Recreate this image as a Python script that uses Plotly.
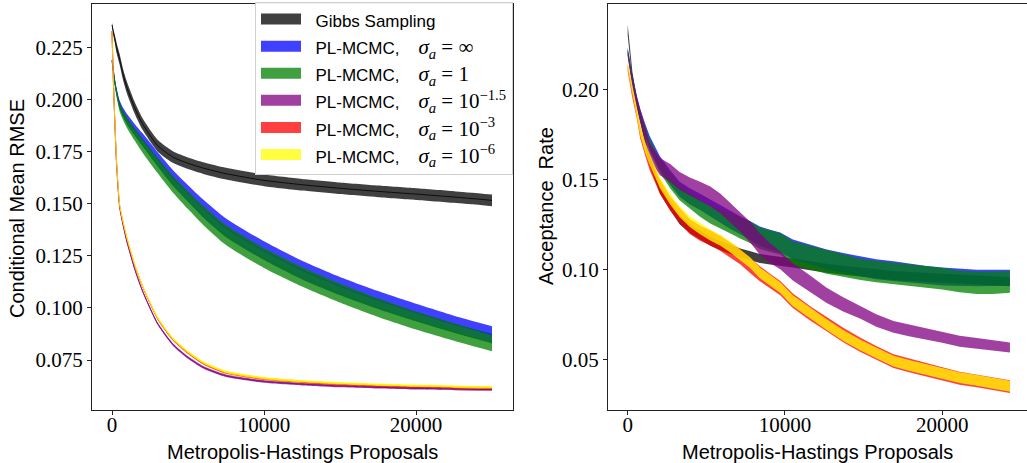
import plotly.graph_objects as go

# ---------------- data: left panel (Conditional Mean RMSE) ----------------
proposals_left = [0, 100, 200, 300, 500, 750, 1000, 1500, 2000, 3000, 4000, 5000,
                  6000, 7500, 10000, 12500, 15000, 17500, 20000, 22500, 25000]

gibbs_rmse = [0.236, 0.232, 0.2287, 0.225, 0.2195, 0.2115, 0.2055, 0.196, 0.1885, 0.178, 0.1725,
              0.1695, 0.1672, 0.1645, 0.1613, 0.1592, 0.1575, 0.156, 0.1547, 0.1533, 0.1517]
gibbs_rmse_sd = [0.001, 0.0015, 0.002, 0.0024, 0.0026, 0.0027, 0.0028, 0.0028, 0.0028, 0.0028, 0.0028,
                 0.0028, 0.0028, 0.0028, 0.0028, 0.0028, 0.0028, 0.0028, 0.0028, 0.0028, 0.0028]
inf_rmse = [0.219, 0.2135, 0.208, 0.204, 0.1978, 0.1937, 0.1905, 0.1855, 0.181, 0.1715, 0.1625,
            0.155, 0.1478, 0.1385, 0.1275, 0.1182, 0.1105, 0.1038, 0.0978, 0.0922, 0.0872]
inf_rmse_sd = [0.001, 0.0012, 0.0015, 0.0017, 0.002, 0.0022, 0.0025, 0.0028, 0.003, 0.0034, 0.0038,
               0.004, 0.0043, 0.0045, 0.0045, 0.0045, 0.0044, 0.0043, 0.0042, 0.0041, 0.004]
one_rmse = [0.219, 0.2132, 0.2075, 0.2032, 0.1965, 0.1922, 0.1888, 0.1833, 0.178, 0.1685, 0.1595,
            0.1518, 0.1445, 0.135, 0.124, 0.115, 0.1072, 0.1002, 0.094, 0.0885, 0.0832]
one_rmse_sd = [0.001, 0.0012, 0.0015, 0.0017, 0.002, 0.0023, 0.0026, 0.003, 0.0033, 0.0037, 0.004,
               0.0043, 0.0046, 0.0048, 0.0048, 0.0047, 0.0046, 0.0045, 0.0043, 0.0042, 0.004]
m15_rmse = [0.233, 0.207, 0.1865, 0.169, 0.1485, 0.139, 0.1312, 0.1185, 0.1083, 0.0925, 0.0825,
            0.0762, 0.0715, 0.0674, 0.0647, 0.0634, 0.0625, 0.0619, 0.0614, 0.0611, 0.0608]
m3_rmse = [0.233, 0.207, 0.187, 0.170, 0.1495, 0.1405, 0.133, 0.1205, 0.1105, 0.095, 0.085,
           0.0785, 0.0735, 0.069, 0.066, 0.0645, 0.0635, 0.0628, 0.0623, 0.0619, 0.0616]
m6_rmse = [0.233, 0.2073, 0.1873, 0.1703, 0.1498, 0.1408, 0.1333, 0.1208, 0.1108, 0.0953, 0.0853,
           0.0788, 0.0738, 0.0693, 0.0663, 0.0648, 0.0638, 0.0631, 0.0626, 0.0622, 0.0619]
small_rmse_sd = [0.0006] * 21

# ---------------- data: right panel (Acceptance Rate) ----------------
proposals_right = [0, 150, 300, 570, 800, 1100, 1400, 2050, 2700, 3300, 3950, 4600, 5250, 5900,
                   6500, 7150, 7800, 8400, 9050, 9700, 10500, 11600, 12650, 13700, 14800, 15800,
                   16900, 17950, 19000, 20000, 21100, 22200, 23200, 24300]

gibbs_acc = [0.233, 0.218, 0.207, 0.193, 0.183, 0.172, 0.160, 0.1445, 0.1355, 0.1275, 0.1225, 0.119,
             0.1155, 0.113, 0.111, 0.109, 0.1075, 0.106, 0.1052, 0.1045, 0.1035, 0.102, 0.1005,
             0.0995, 0.0985, 0.0975, 0.0965, 0.096, 0.0955, 0.095, 0.0945, 0.094, 0.0935, 0.093]
gibbs_acc_sd = [0.003, 0.0028, 0.0026] + [0.0025] * 31
inf_acc = [0.221, 0.212, 0.205, 0.194, 0.186, 0.178, 0.1705, 0.159, 0.151, 0.1445, 0.1405, 0.1375,
           0.134, 0.1305, 0.1275, 0.1245, 0.1215, 0.1185, 0.1165, 0.115, 0.111, 0.108, 0.1055,
           0.1035, 0.1015, 0.100, 0.099, 0.0978, 0.0968, 0.096, 0.0955, 0.0952, 0.0952, 0.0952]
inf_acc_sd = [0.002, 0.0025, 0.003, 0.003, 0.003, 0.0032, 0.0035, 0.0038, 0.004, 0.0042,
              0.0045, 0.0045, 0.0047, 0.005, 0.005, 0.005, 0.0052, 0.0053, 0.0055, 0.0055,
              0.0055, 0.0055, 0.0055, 0.0055, 0.0055, 0.0055, 0.0055, 0.0053, 0.005, 0.005,
              0.0048, 0.0046, 0.0045, 0.0045]
one_acc = [0.221, 0.212, 0.205, 0.193, 0.185, 0.177, 0.169, 0.1575, 0.149, 0.1425, 0.138, 0.134,
           0.1305, 0.128, 0.1255, 0.1228, 0.1205, 0.1172, 0.1155, 0.1142, 0.109, 0.1065, 0.104,
           0.102, 0.100, 0.0988, 0.0977, 0.0967, 0.0958, 0.0948, 0.0932, 0.0925, 0.0925, 0.093]
one_acc_sd = [0.002, 0.0025, 0.003, 0.003, 0.003, 0.0032, 0.0035, 0.0038, 0.004, 0.0042,
              0.0045, 0.0048, 0.005, 0.0052, 0.0055, 0.0057, 0.006, 0.006, 0.006, 0.006,
              0.0065, 0.0065, 0.0065, 0.0062, 0.006, 0.006, 0.006, 0.006, 0.006, 0.006,
              0.006, 0.0062, 0.0062, 0.006]
m15_acc = [0.220, 0.211, 0.204, 0.193, 0.185, 0.176, 0.1655, 0.157, 0.1535, 0.149, 0.146, 0.1435,
           0.1405, 0.1365, 0.1315, 0.1265, 0.1205, 0.114, 0.109, 0.105, 0.0985, 0.092, 0.0855,
           0.0805, 0.076, 0.0715, 0.068, 0.066, 0.064, 0.0622, 0.060, 0.0588, 0.0578, 0.0565]
m15_acc_sd = [0.002, 0.0025, 0.003, 0.003, 0.0035, 0.004, 0.0045, 0.0048, 0.005, 0.005,
              0.005, 0.0052, 0.0055, 0.0055, 0.0055, 0.0055, 0.0058, 0.006, 0.0055, 0.005,
              0.0048, 0.0045, 0.0042, 0.004, 0.0035, 0.0035, 0.0033, 0.0033, 0.003, 0.003,
              0.003, 0.003, 0.0028, 0.0028]
m3_acc = [0.212, 0.205, 0.198, 0.187, 0.176, 0.167, 0.159, 0.146, 0.1365, 0.130, 0.1238, 0.120,
          0.1175, 0.1143, 0.1107, 0.107, 0.102, 0.0975, 0.0935, 0.0895, 0.0825, 0.0755, 0.0695,
          0.0635, 0.058, 0.0535, 0.049, 0.0465, 0.044, 0.042, 0.0395, 0.038, 0.0365, 0.0348]
m3_acc_sd = [0.002, 0.0025, 0.003, 0.003, 0.0035, 0.0035, 0.004, 0.004, 0.004, 0.0042,
             0.0042, 0.0042, 0.0042, 0.0042, 0.0042, 0.0042, 0.0042, 0.0042, 0.004, 0.004,
             0.004, 0.004, 0.004, 0.004, 0.004, 0.0038, 0.0038, 0.0038, 0.0036, 0.0036,
             0.0036, 0.0036, 0.0036, 0.0036]
m6_acc = [0.213, 0.206, 0.199, 0.188, 0.177, 0.168, 0.161, 0.148, 0.139, 0.132, 0.1265, 0.1225,
          0.119, 0.116, 0.1125, 0.108, 0.1035, 0.098, 0.0938, 0.0898, 0.0825, 0.0755, 0.0692,
          0.0632, 0.0578, 0.0535, 0.049, 0.0465, 0.0442, 0.0422, 0.0398, 0.0383, 0.0368, 0.035]
m6_acc_sd = [0.002, 0.002, 0.0025, 0.0025] + [0.003] * 30

MATH = '<span style="font-family:Liberation Serif;font-size:21px">'
PL = "&nbsp;&nbsp;PL-MCMC,&nbsp;&nbsp;&nbsp; "
series_names = [
    "&nbsp;&nbsp;Gibbs Sampling",
    PL + MATH + "<i>σ<sub>a</sub></i> = ∞</span>",
    PL + MATH + "<i>σ<sub>a</sub></i> = 1</span>",
    PL + MATH + "<i>σ<sub>a</sub></i> = 10<sup>−1.5</sup></span>",
    PL + MATH + "<i>σ<sub>a</sub></i> = 10<sup>−3</sup></span>",
    PL + MATH + "<i>σ<sub>a</sub></i> = 10<sup>−6</sup></span>",
]
base_rgb = [(0, 0, 0), (0, 0, 255), (0, 128, 0), (128, 0, 128), (255, 0, 0), (255, 255, 0)]
x_ticks = [0, 10000, 20000]
x_title = "Metropolis-Hastings Proposals"
y_title_left = "Conditional Mean RMSE"
y_title_right = "Acceptance&nbsp; Rate"

left_series = [(gibbs_rmse, gibbs_rmse_sd), (inf_rmse, inf_rmse_sd), (one_rmse, one_rmse_sd),
               (m15_rmse, small_rmse_sd), (m3_rmse, small_rmse_sd), (m6_rmse, small_rmse_sd)]
right_series = [(gibbs_acc, gibbs_acc_sd), (inf_acc, inf_acc_sd), (one_acc, one_acc_sd),
                (m15_acc, m15_acc_sd), (m3_acc, m3_acc_sd), (m6_acc, m6_acc_sd)]

ALPHA = 0.75


def rgba(c, a):
    return f"rgba({c[0]},{c[1]},{c[2]},{a})"


def blended(c, a):
    r = [round(a * v + (1 - a) * 255) for v in c]
    return f"rgb({r[0]},{r[1]},{r[2]})"


fig = go.Figure()


def add_band(x, mean, sd, c, xa, ya, shape, centre_line):
    lower = [m - s for m, s in zip(mean, sd)]
    upper = [m + s for m, s in zip(mean, sd)]
    fig.add_trace(go.Scatter(x=x, y=lower, mode="lines", line=dict(width=0, shape=shape, smoothing=0.6),
                             showlegend=False, hoverinfo="skip", xaxis=xa, yaxis=ya))
    fig.add_trace(go.Scatter(x=x, y=upper, mode="lines", line=dict(width=0, shape=shape, smoothing=0.6),
                             fill="tonexty", fillcolor=rgba(c, ALPHA),
                             showlegend=False, hoverinfo="skip", xaxis=xa, yaxis=ya))
    if centre_line:
        fig.add_trace(go.Scatter(x=x, y=mean, mode="lines",
                                 line=dict(width=0.9, color=rgba(c, 0.9), shape=shape, smoothing=0.6),
                                 showlegend=False, hoverinfo="skip", xaxis=xa, yaxis=ya))


for (mean, sd), c in zip(left_series, base_rgb):
    add_band(proposals_left, mean, sd, c, "x", "y", "spline", True)
for (mean, sd), c in zip(right_series, base_rgb):
    add_band(proposals_right, mean, sd, c, "x2", "y2", "linear", False)

# legend entries
for i, (name, c) in enumerate(zip(series_names, base_rgb)):
    fig.add_trace(go.Scatter(x=[None], y=[None], mode="lines", name=name, legendgroup=f"g{i}",
                             fill="toself", fillcolor=blended(c, ALPHA),
                             line=dict(color=blended(c, ALPHA), width=10),
                             xaxis="x", yaxis="y"))

W, H = 1027, 463
ydom = [1 - 410 / H, 1 - 4 / H]
tick_font = dict(family="Liberation Serif", size=21, color="black")
title_font = dict(family="Liberation Sans", size=20, color="black")
axis_common = dict(showgrid=False, zeroline=False, showline=True, mirror=True, linecolor="#222",
                   linewidth=1, ticks="outside", ticklen=4, tickwidth=1, tickcolor="#222",
                   tickfont=tick_font, automargin=False)

annotations = [
    dict(text=x_title, x=302 / W, y=1 - 452 / H, xref="paper", yref="paper",
         xanchor="center", yanchor="middle", showarrow=False, font=title_font),
    dict(text=x_title, x=817 / W, y=1 - 452 / H, xref="paper", yref="paper",
         xanchor="center", yanchor="middle", showarrow=False, font=title_font),
    dict(text=y_title_left, x=17 / W, y=1 - 209 / H, xref="paper", yref="paper", textangle=-90,
         xanchor="center", yanchor="middle", showarrow=False, font=title_font),
    dict(text=y_title_right, x=546 / W, y=1 - 206 / H, xref="paper", yref="paper", textangle=-90,
         xanchor="center", yanchor="middle", showarrow=False, font=title_font),
]

fig.update_layout(
    width=W, height=H,
    margin=dict(l=0, r=0, t=0, b=0),
    paper_bgcolor="white", plot_bgcolor="white",
    showlegend=True,
    annotations=annotations,
    legend=dict(x=255 / W, y=1 - 2 / H, xanchor="left", yanchor="top",
                bgcolor="rgba(255,255,255,0.92)", bordercolor="#d0d0d0", borderwidth=1,
                font=dict(family="Liberation Sans", size=17, color="black"),
                itemwidth=40, traceorder="grouped", tracegroupgap=2),
    xaxis=dict(domain=[92 / W, 513 / W], range=[-1316, 26380], tickvals=x_ticks,
               ticktext=[str(v) for v in x_ticks], ticklabelstandoff=-8, **axis_common),
    yaxis=dict(domain=ydom, range=[0.051, 0.246], tick0=0.075, dtick=0.025, tickformat=".3f",
               **axis_common),
    xaxis2=dict(domain=[608 / W, 1.0], range=[-1252, 25385], tickvals=x_ticks,
                ticktext=[str(v) for v in x_ticks], anchor="y2", ticklabelstandoff=-8,
                **axis_common),
    yaxis2=dict(domain=ydom, range=[0.0218, 0.2474], tick0=0.05, dtick=0.05, tickformat=".2f",
                anchor="x2", **axis_common),
)

fig.write_html("out.html", config={"displayModeBar": False},
               post_script="document.body.style.margin='0px';")
